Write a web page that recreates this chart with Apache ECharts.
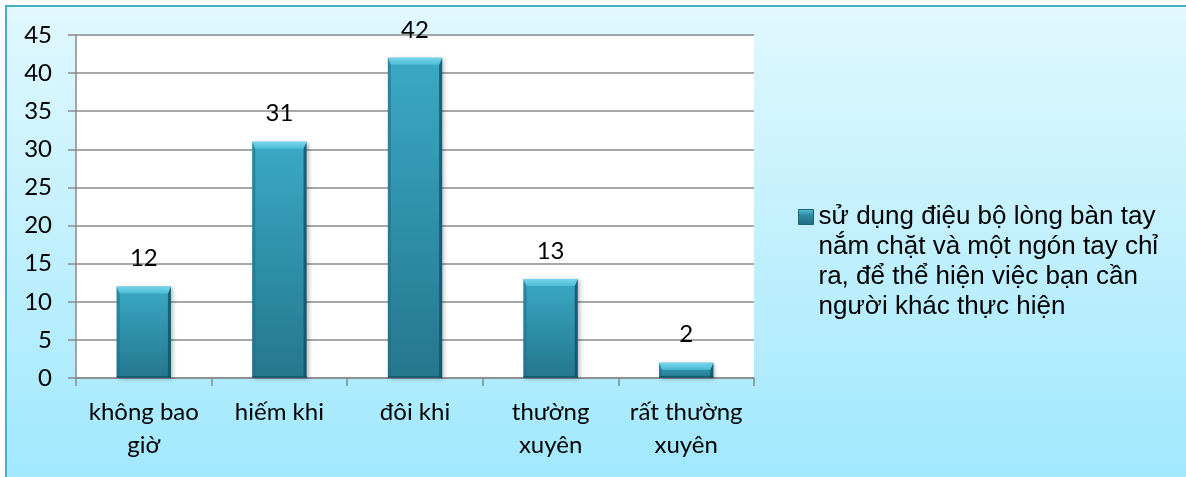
<!DOCTYPE html>
<html>
<head>
<meta charset="utf-8">
<style>
  html, body { margin: 0; padding: 0; background: #ffffff; }
  #chart { width: 1186px; height: 477px; }
</style>
<script src="https://cdn.jsdelivr.net/npm/echarts@6/dist/echarts.min.js"></script>
</head>
<body>
<div id="chart"></div>
<script>
// Response categories (x axis), one line break where the label wraps
const categories = ['không bao\ngiờ', 'hiếm khi', 'đôi khi', 'thường\nxuyên', 'rất thường\nxuyên'];
// Number of answers per category
const counts = [12, 31, 42, 13, 2];
// Value axis settings
const yMin = 0;
const yMax = 45;
const yStep = 5;
// Series name, wrapped the way the legend shows it
const seriesName = 'sử dụng điệu bộ lòng bàn tay\nnắm chặt và một ngón tay chỉ\nra, để thể hiện việc bạn cần\nngười khác thực hiện';

const axisFont = 'Lato, "Open Sans", sans-serif';
const chart = echarts.init(document.getElementById('chart'), null, { renderer: 'canvas' });

// Bevelled edges drawn over each bar
function renderBevel(params, api) {
  const idx = api.value(0);
  const top = api.coord([idx, api.value(1)]);
  const base = api.coord([idx, 0]);
  const w = api.size([1, 0])[0] * 0.4;
  const x0 = top[0] - w / 2, x1 = top[0] + w / 2;
  const y0 = top[1], yb = base[1];
  const b = Math.min(7, (yb - y0) / 2);
  const s = 3;
  return {
    type: 'group',
    children: [
      { type: 'polygon', shape: { points: [[x0, y0], [x0 + s, y0 + b], [x0 + s, yb], [x0, yb]] },
        style: { fill: 'rgba(30,110,135,0.55)' } },
      { type: 'polygon', shape: { points: [[x1, y0], [x1 - s, y0 + b], [x1 - s, yb], [x1, yb]] },
        style: { fill: 'rgba(18,80,100,0.8)' } },
      { type: 'polygon', shape: { points: [[x0, y0], [x1, y0], [x1 - s, y0 + b], [x0 + s, y0 + b]] },
        style: { fill: new echarts.graphic.LinearGradient(0, 0, 0, 1, [
          { offset: 0, color: '#74d6ec' }, { offset: 1, color: '#4dbcd7' }]) } },
      { type: 'rect', shape: { x: x0, y: yb - 2, width: w, height: 2 },
        style: { fill: 'rgba(20,80,100,0.7)' } }
    ]
  };
}

chart.setOption({
  animation: false,
  graphic: [{
    type: 'rect',
    z: -100,
    silent: true,
    shape: { x: 6, y: 6, width: 1200, height: 500 },
    style: {
      fill: new echarts.graphic.LinearGradient(0, 0, 0, 1, [
        { offset: 0, color: '#e1f8fe' },
        { offset: 1, color: '#9de7fd' }
      ]),
      stroke: '#4bacc6',
      lineWidth: 2
    }
  }],
  grid: {
    left: 76, right: 432, top: 35, bottom: 99,
    show: true, backgroundColor: '#ffffff', borderWidth: 0
  },
  legend: {
    data: [seriesName],
    orient: 'vertical',
    left: 798,
    top: 112,
    padding: 0,
    itemWidth: 15,
    itemHeight: 15,
    icon: 'rect',
    // leading blank lines keep the first text line level with the marker
    formatter: name => '\n\n\n' + name,
    itemStyle: {
      color: new echarts.graphic.LinearGradient(0, 0, 0, 1, [
        { offset: 0, color: '#5cc6df' }, { offset: 0.35, color: '#2e8ea9' }, { offset: 1, color: '#1f6b82' }]),
      borderColor: '#1d6478', borderWidth: 1
    },
    textStyle: {
      fontFamily: '"Liberation Sans", Arial, sans-serif',
      fontSize: 26,
      lineHeight: 30,
      color: '#000000'
    }
  },
  xAxis: {
    type: 'category',
    data: categories,
    axisLine: { show: true, lineStyle: { color: '#8a8a8a', width: 1.5 } },
    axisTick: { show: true, length: 8, alignWithLabel: false, lineStyle: { color: '#8a8a8a', width: 1.5 } },
    axisLabel: {
      interval: 0, margin: 18, color: '#000000',
      fontFamily: axisFont, fontSize: 24, lineHeight: 33
    },
    splitLine: { show: false }
  },
  yAxis: {
    type: 'value',
    min: yMin, max: yMax, interval: yStep,
    axisLine: { show: true, lineStyle: { color: '#8a8a8a', width: 1.5 } },
    axisTick: { show: true, length: 8, lineStyle: { color: '#8a8a8a', width: 1.5 } },
    axisLabel: { margin: 24, color: '#000000', fontFamily: axisFont, fontSize: 24 },
    splitLine: { show: true, lineStyle: { color: '#8a8a8a', width: 1.5 } }
  },
  series: [
    {
      name: seriesName,
      type: 'bar',
      data: counts,
      barWidth: '40%',
      itemStyle: {
        color: new echarts.graphic.LinearGradient(0, 0, 0, 1, [
          { offset: 0, color: '#3aa9c5' },
          { offset: 1, color: '#25778e' }
        ]),
        shadowColor: 'rgba(0,0,0,0.25)',
        shadowBlur: 4,
        shadowOffsetX: 2,
        shadowOffsetY: 1
      },
      label: {
        show: true, position: 'top', distance: 14,
        color: '#000000', fontFamily: axisFont, fontSize: 24, lineHeight: 28
      }
    },
    {
      name: 'bevel',
      type: 'custom',
      renderItem: renderBevel,
      data: counts.map((v, i) => [i, v]),
      z: 3,
      silent: true
    }
  ]
});
</script>
</body>
</html>
